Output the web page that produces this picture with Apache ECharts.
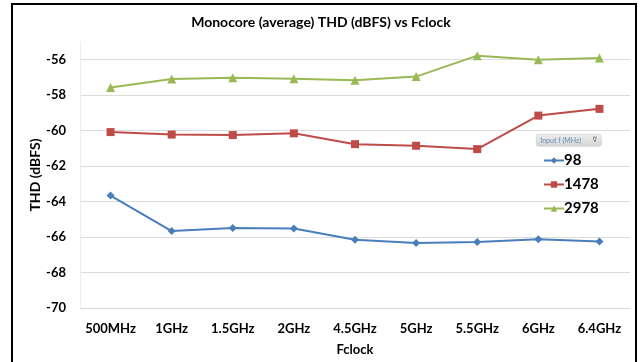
<!DOCTYPE html>
<html>
<head>
<meta charset="utf-8">
<script src="https://cdn.jsdelivr.net/npm/echarts@6/dist/echarts.min.js"></script>
<style>
  html, body { margin: 0; padding: 0; background: #ffffff; }
  #chart { width: 642px; height: 362px; }
</style>
</head>
<body>
<div id="chart"></div>
<script>
// Clock frequencies on the x axis
const clocks = ['500MHz', '1GHz', '1.5GHz', '2GHz', '4.5GHz', '5GHz', '5.5GHz', '6GHz', '6.4GHz'];

// THD (dBFS) per input frequency (MHz)
const thd98   = [-63.66, -65.66, -65.49, -65.52, -66.15, -66.34, -66.28, -66.13, -66.25];
const thd1478 = [-60.08, -60.22, -60.25, -60.15, -60.76, -60.85, -61.04, -59.15, -58.77];
const thd2978 = [-57.57, -57.09, -57.01, -57.07, -57.16, -56.95, -55.77, -56.00, -55.90];

const seriesNames = ['98', '1478', '2978'];
// Labelled ticks run -70..-56; the plot area reaches a little higher
const yTicks = { min: -70, max: -55, step: 2 };

const FONT = 'Lato, "Open Sans", sans-serif';
const colors = ['#4a7ebb', '#be4b48', '#98b954'];

const chart = echarts.init(document.getElementById('chart'), null, { renderer: 'canvas' });

function lineSeries(name, data, color, symbol, size) {
  return {
    name: name,
    type: 'line',
    data: data,
    symbol: symbol,
    symbolSize: size,
    showSymbol: true,
    lineStyle: { color: color, width: 2 },
    itemStyle: { color: color, borderWidth: 0 },
    emphasis: { disabled: true },
    animation: false
  };
}

chart.setOption({
  animation: false,
  backgroundColor: '#ffffff',
  title: {
    text: 'Monocore (average) THD (dBFS) vs Fclock',
    left: 'center',
    top: 10,
    textStyle: { fontFamily: FONT, fontSize: 14, fontWeight: 'bold', color: '#000' }
  },
  grid: { left: 80, right: 12, top: 42, bottom: 54, containLabel: false },
  legend: {
    orient: 'vertical',
    left: 538,
    top: 148,
    itemGap: 9,
    itemWidth: 20,
    itemHeight: 8,
    data: seriesNames,
    textStyle: { fontFamily: FONT, fontSize: 15, fontWeight: 'bold', color: '#000', padding: [0, 0, 0, -5] }
  },
  xAxis: {
    type: 'category',
    data: clocks,
    boundaryGap: true,
    name: 'Fclock',
    nameLocation: 'middle',
    nameGap: 35,
    nameTextStyle: { fontFamily: FONT, fontSize: 13, fontWeight: 'bold', color: '#000' },
    axisLine: { show: true, lineStyle: { color: '#d9d9d9', width: 1 } },
    axisTick: { show: false },
    axisLabel: { fontFamily: FONT, fontSize: 13, fontWeight: 'bold', color: '#000', margin: 14, interval: 0 },
    splitLine: { show: false }
  },
  yAxis: {
    type: 'value',
    min: yTicks.min,
    max: yTicks.max,
    interval: yTicks.step,
    name: 'THD (dBFS)',
    nameLocation: 'middle',
    nameGap: 38,
    nameRotate: 90,
    nameMoveOverlap: false,
    nameTextStyle: { fontFamily: FONT, fontSize: 14, fontWeight: 'bold', color: '#000' },
    axisLine: { show: true, lineStyle: { color: '#eeeeee', width: 1 } },
    axisTick: { show: false },
    axisLabel: { fontFamily: FONT, fontSize: 13, fontWeight: 'bold', color: '#000', margin: 14, showMaxLabel: false },
    splitLine: { show: true, showMaxLine: false, lineStyle: { color: '#dcdcdc', width: 1 } }
  },
  series: [
    lineSeries(seriesNames[0], thd98, colors[0], 'diamond', 8),
    lineSeries(seriesNames[1], thd1478, colors[1], 'rect', 8),
    lineSeries(seriesNames[2], thd2978, colors[2], 'triangle', 9)
  ],
  graphic: [
    {
      type: 'rect',
      shape: { x: 12, y: 4, width: 624, height: 400 },
      style: { fill: 'none', stroke: '#000', lineWidth: 2 },
      silent: true
    },
    {
      type: 'group',
      left: 536,
      top: 134,
      children: [
        {
          type: 'rect',
          shape: { x: 0, y: 0, width: 65, height: 12, r: 2 },
          style: {
            fill: new echarts.graphic.LinearGradient(0, 0, 0, 1, [
              { offset: 0, color: '#eeeeee' },
              { offset: 1, color: '#d4d4d4' }
            ]),
            stroke: '#c0c0c0',
            lineWidth: 0.5
          }
        },
        {
          type: 'text',
          x: 4,
          y: 6,
          style: { text: 'Input f (MHz)', fontFamily: FONT, fontSize: 7, fill: '#6b8db3', verticalAlign: 'middle' }
        },
        {
          type: 'text',
          x: 56,
          y: 6,
          style: { text: '⊽', fontFamily: 'DejaVu Sans', fontSize: 7, fill: '#666', verticalAlign: 'middle' }
        }
      ]
    }
  ]
});
</script>
</body>
</html>
